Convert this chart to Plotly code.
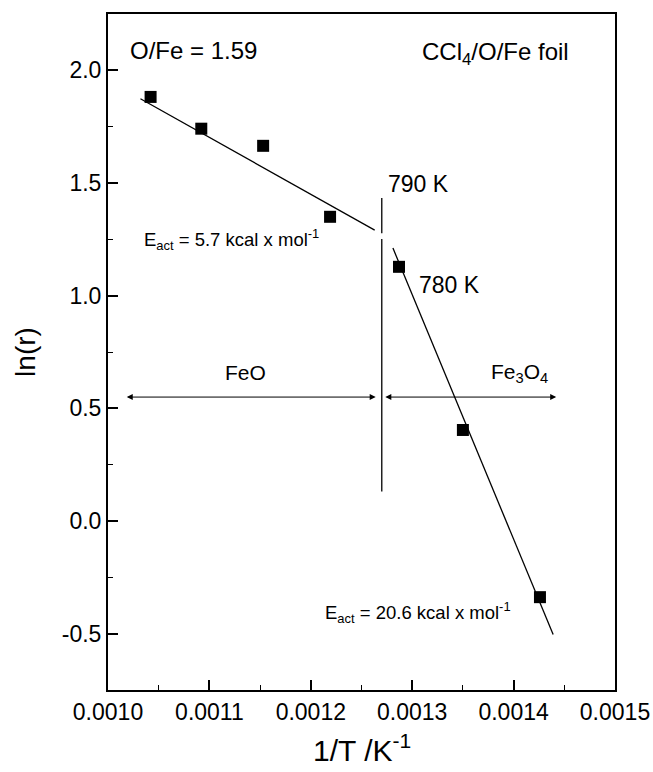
import plotly.graph_objects as go

# ---- data ----
inv_T = [0.001042, 0.001092, 0.001153, 0.001219, 0.001287, 0.001350, 0.001426]
ln_r = [1.882, 1.741, 1.665, 1.350, 1.128, 0.404, -0.338]

feo_fit_x = [0.001032, 0.001263]
feo_fit_y = [1.874, 1.291]
fe3o4_fit_x = [0.001281, 0.001439]
fe3o4_fit_y = [1.211, -0.504]

boundary_x = [0.00127, 0.00127, None, 0.00127, 0.00127]
boundary_y = [1.433, 1.277, None, 1.251, 0.131]

feo_arrow_x = [0.001017, 0.001264]
fe3o4_arrow_x = [0.001272, 0.001442]
arrow_y = 0.55

x_tickvals = [0.0010, 0.0011, 0.0012, 0.0013, 0.0014, 0.0015]
x_ticktext = ["0.0010", "0.0011", "0.0012", "0.0013", "0.0014", "0.0015"]
y_tickvals = [-0.5, 0.0, 0.5, 1.0, 1.5, 2.0]
y_ticktext = ["-0.5", "0.0", "0.5", "1.0", "1.5", "2.0"]

FONT = "Liberation Sans, Arial, Helvetica, sans-serif"

fig = go.Figure()
line_style = dict(color="black", width=1.3)
fig.add_trace(go.Scatter(x=feo_fit_x, y=feo_fit_y, mode="lines", line=line_style,
                         showlegend=False, hoverinfo="skip"))
fig.add_trace(go.Scatter(x=fe3o4_fit_x, y=fe3o4_fit_y, mode="lines", line=line_style,
                         showlegend=False, hoverinfo="skip"))
fig.add_trace(go.Scatter(x=boundary_x, y=boundary_y, mode="lines", line=line_style,
                         showlegend=False, hoverinfo="skip", connectgaps=False))
fig.add_trace(go.Scatter(x=inv_T, y=ln_r, mode="markers",
                         marker=dict(symbol="square", size=12, color="black"),
                         showlegend=False))

annotations = []
# double-headed arrows
for xs in (feo_arrow_x, fe3o4_arrow_x):
    annotations.append(dict(x=xs[1], y=arrow_y, ax=xs[0], ay=arrow_y,
                            xref="x", yref="y", axref="x", ayref="y",
                            text="", showarrow=True, arrowhead=2, arrowside="end+start",
                            arrowsize=1.2, arrowwidth=1, arrowcolor="black"))

def label(x, y, text, size=22, xanchor="left"):
    annotations.append(dict(x=x, y=y, xref="x", yref="y", text=text, showarrow=False,
                            xanchor=xanchor, yanchor="middle",
                            font=dict(family=FONT, size=size, color="black")))

label(0.0010195, 2.089, "O/Fe = 1.59", 24)
label(0.0014566, 2.075, "CCl<sub>4</sub>/O/Fe foil", 24, xanchor="right")
label(0.001274, 1.495, "790 K", 23)
label(0.0013047, 1.047, "780 K", 23)
label(0.0010335, 1.251, "E<sub>act</sub> = 5.7 kcal x mol<sup>-1</sup>", 18.5)
label(0.0012120, -0.407, "E<sub>act</sub> = 20.6 kcal x mol<sup>-1</sup>", 18.5)
label(0.001136, 0.660, "FeO", 21, xanchor="center")
label(0.0014063, 0.655, "Fe<sub>3</sub>O<sub>4</sub>", 21, xanchor="center")

# x-axis title placed like the reference
annotations.append(dict(x=0.5, y=-0.086, xref="paper", yref="paper",
                        text="1/T /K<sup>-1</sup>", showarrow=False,
                        xanchor="center", yanchor="middle",
                        font=dict(family=FONT, size=30, color="black")))

fig.update_layout(
    width=653, height=772,
    margin=dict(l=108, r=38, t=14, b=82),
    paper_bgcolor="white", plot_bgcolor="white",
    font=dict(family=FONT, size=23, color="black"),
    annotations=annotations,
    showlegend=False,
)
fig.update_xaxes(
    range=[0.0010, 0.0015], tickvals=x_tickvals, ticktext=x_ticktext,
    ticks="inside", ticklen=10, tickwidth=1.5, tickcolor="black",
    minor=dict(ticks="inside", ticklen=5, tickwidth=1.2, tickcolor="black", dtick=0.00005),
    showline=True, linecolor="black", linewidth=2, mirror=True,
    showgrid=False, zeroline=False, automargin=False,
    tickfont=dict(family=FONT, size=23),
)
fig.update_yaxes(
    range=[-0.75, 2.25], tickvals=y_tickvals, ticktext=y_ticktext,
    ticks="inside", ticklen=10, tickwidth=1.5, tickcolor="black",
    minor=dict(ticks="inside", ticklen=5, tickwidth=1.2, tickcolor="black", dtick=0.25),
    showline=True, linecolor="black", linewidth=2, mirror=True,
    showgrid=False, zeroline=False, automargin=False,
    tickfont=dict(family=FONT, size=23),
    title=dict(text="ln(r)", font=dict(family=FONT, size=28), standoff=18),
)

fig.write_html("out.html")
